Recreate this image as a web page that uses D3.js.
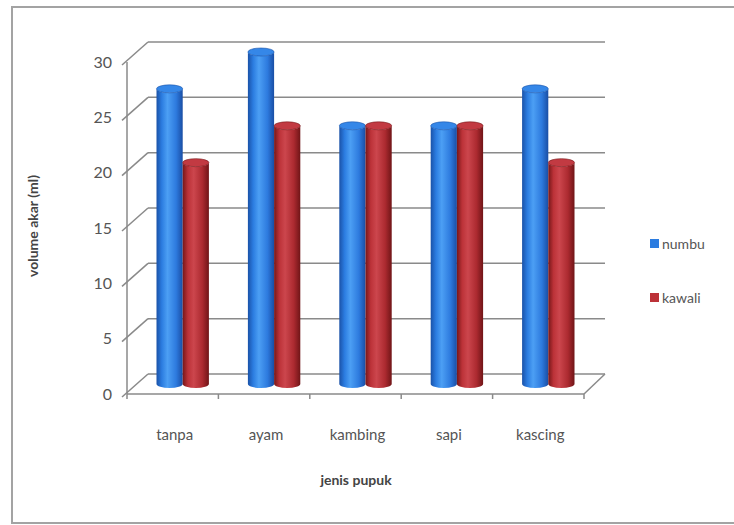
<!DOCTYPE html>
<html>
<head>
<meta charset="utf-8">
<script src="https://cdn.jsdelivr.net/npm/d3@7"></script>
<style>
  body { margin: 0; background: #fff; }
  text { font-family: Lato, "Open Sans", sans-serif; }
</style>
</head>
<body>
<svg id="chart" width="734" height="525"></svg>
<script>
var categories = ["tanpa", "ayam", "kambing", "sapi", "kascing"];
var seriesNames = ["numbu", "kawali"];
var numbu = [26.67, 30, 23.33, 23.33, 26.67];
var kawali = [20, 23.33, 23.33, 23.33, 20];
var yTicks = [0, 5, 10, 15, 20, 25, 30];

var svg = d3.select("#chart");

// depth of the 3d box
var dx = 21, dy = -20;

var x = d3.scaleBand().domain(categories).range([127, 584]);
var x1 = d3.scaleBand().domain(seriesNames).range([19, x.bandwidth() - 20]);
var y = d3.scaleLinear().domain([0, 30]).range([394, 62]);

var colors = {
  numbu: { stops: ["#1a52a8", "#2b7ce0", "#4c9ff4", "#2d7ade", "#1a4ea4"], top: "#3587e8" },
  kawali: { stops: ["#761719", "#bc3238", "#cc464d", "#ac2a30", "#701517"], top: "#c23a42" }
};

// gradients
var defs = svg.append("defs");
seriesNames.forEach(function(s) {
  var g = defs.append("linearGradient").attr("id", "g-" + s)
    .attr("x1", "0%").attr("x2", "100%").attr("y1", "0%").attr("y2", "0%");
  var offs = [0, 0.2, 0.42, 0.75, 1];
  colors[s].stops.forEach(function(c, i) {
    g.append("stop").attr("offset", offs[i]).attr("stop-color", c);
  });
});

// chart border
svg.append("rect").attr("x", 12).attr("y", 7).attr("width", 740).attr("height", 516)
  .attr("fill", "none").attr("stroke", "#a3a3a3").attr("stroke-width", 2);

var grid = svg.append("g").attr("stroke", "#8a8a8a").attr("stroke-width", 1.5).attr("fill", "none");

// back wall gridlines + side wall diagonals
yTicks.forEach(function(t) {
  grid.append("line")
    .attr("x1", x.range()[0] + dx).attr("x2", x.range()[1] + dx)
    .attr("y1", y(t) + dy).attr("y2", y(t) + dy);
  grid.append("line")
    .attr("x1", x.range()[0] - 5).attr("x2", x.range()[0] + dx)
    .attr("y1", y(t) + 3).attr("y2", y(t) + dy);
});

// floor
grid.append("line")
  .attr("x1", x.range()[0]).attr("x2", x.range()[1])
  .attr("y1", y(0)).attr("y2", y(0));
grid.append("line")
  .attr("x1", x.range()[1]).attr("x2", x.range()[1] + dx)
  .attr("y1", y(0)).attr("y2", y(0) + dy);
// y axis
grid.append("line")
  .attr("x1", x.range()[0]).attr("x2", x.range()[0])
  .attr("y1", y(30)).attr("y2", y(0));

// category ticks
var bounds = categories.map(function(c) { return x(c); }).concat([x.range()[1]]);
bounds.forEach(function(b) {
  grid.append("line").attr("x1", b).attr("x2", b).attr("y1", y(0)).attr("y2", y(0) + 5);
});

// cylinders
var data = [];
categories.forEach(function(c, i) {
  data.push({ cat: c, s: "numbu", v: numbu[i] });
  data.push({ cat: c, s: "kawali", v: kawali[i] });
});

var rx = x1.bandwidth() / 2, ry = 4;
var bars = svg.append("g");
data.forEach(function(d) {
  var x0 = x(d.cat) + x1(d.s) + dx / 2;
  var xe = x0 + x1.bandwidth();
  var yb = y(0) + dy / 2;
  var yt = y(d.v) + dy / 2;
  bars.append("path")
    .attr("d", "M" + x0 + "," + yt + " L" + x0 + "," + yb +
      " A" + rx + "," + ry + " 0 0 0 " + xe + "," + yb +
      " L" + xe + "," + yt +
      " A" + rx + "," + ry + " 0 0 1 " + x0 + "," + yt + "Z")
    .attr("fill", "url(#g-" + d.s + ")");
  bars.append("ellipse")
    .attr("cx", (x0 + xe) / 2).attr("cy", yt)
    .attr("rx", rx).attr("ry", ry)
    .attr("fill", colors[d.s].top)
    .attr("stroke", colors[d.s].stops[0]).attr("stroke-width", 0.6);
});

// y tick labels
svg.append("g").selectAll("text").data(yTicks).enter().append("text")
  .attr("x", 112).attr("y", function(t) { return y(t); })
  .attr("dy", "0.35em").attr("text-anchor", "end")
  .attr("font-size", 16).attr("fill", "#555")
  .text(function(t) { return t; });

// category labels
svg.append("g").selectAll("text").data(categories).enter().append("text")
  .attr("x", function(c) { return x(c) + x.bandwidth() / 2 + 2; })
  .attr("y", 440).attr("text-anchor", "middle")
  .attr("font-size", 15).attr("fill", "#555")
  .text(function(c) { return c; });

// axis titles
svg.append("text")
  .attr("transform", "translate(38,226) rotate(-90)")
  .attr("text-anchor", "middle").attr("font-size", 14).attr("font-weight", "bold").attr("fill", "#444")
  .text("volume akar (ml)");
svg.append("text")
  .attr("x", 356).attr("y", 485).attr("text-anchor", "middle")
  .attr("font-size", 14).attr("font-weight", "bold").attr("fill", "#444")
  .text("jenis pupuk");

// legend
var legend = svg.append("g");
seriesNames.forEach(function(s, i) {
  var ly = 244 + i * 54;
  legend.append("rect").attr("x", 650).attr("y", ly - 5).attr("width", 9).attr("height", 9)
    .attr("fill", colors[s].stops[1]);
  legend.append("text").attr("x", 662).attr("y", ly).attr("dy", "0.35em")
    .attr("font-size", 14).attr("fill", "#555").text(s);
});
</script>
</body>
</html>
